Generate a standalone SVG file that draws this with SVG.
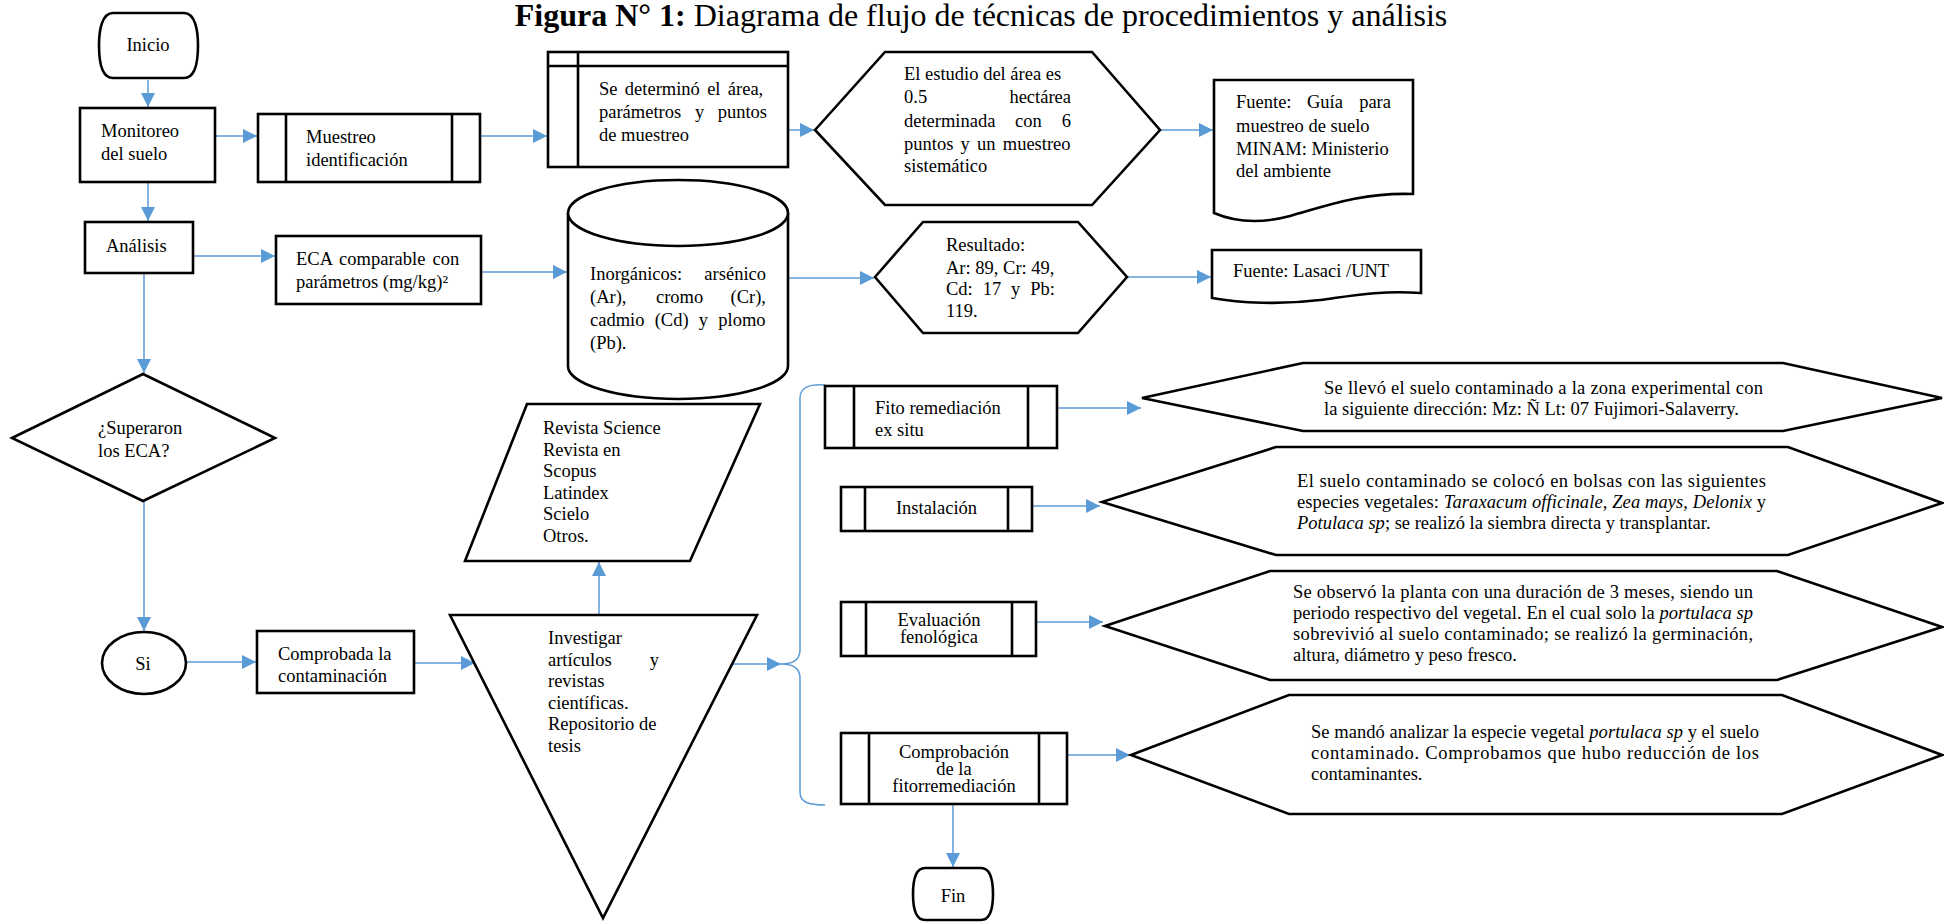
<svg xmlns="http://www.w3.org/2000/svg" width="1944" height="923" viewBox="0 0 1944 923">
<style>
.s{fill:#fff;stroke:#000;stroke-width:2.6;stroke-linejoin:miter}
.l{fill:none;stroke:#000;stroke-width:2.6}
.t{font-family:"Liberation Serif","Times New Roman",serif;font-size:18.5px;fill:#000}
.m{text-anchor:middle}
.e{text-anchor:end}
.c{fill:none;stroke:#5B9BD5;stroke-width:1.5}
.a{marker-end:url(#ah)}
</style>
<defs>
<marker id="ah" markerUnits="userSpaceOnUse" markerWidth="14" markerHeight="14" refX="14" refY="7" orient="auto">
<path d="M0,0 L14,7 L0,14 Z" fill="#5B9BD5"/>
</marker>
</defs>
<rect width="1944" height="923" fill="#fff"/>
<text x="981" y="26" style="font-family:'Liberation Serif','Times New Roman',serif;font-size:32px;text-anchor:middle"><tspan font-weight="bold">Figura N° 1:</tspan> Diagrama de flujo de técnicas de procedimientos y análisis</text>

<g id="connectors">
<path class="c a" d="M148,80 V107"/>
<path class="c a" d="M198,136 H257"/>
<path class="c a" d="M480,136 H547"/>
<path class="c a" d="M788,130 H814"/>
<path class="c a" d="M1160,130 H1213"/>
<path class="c a" d="M148,182 V221"/>
<path class="c a" d="M193,256 H275"/>
<path class="c a" d="M481,272 H567"/>
<path class="c a" d="M775,278 H874"/>
<path class="c a" d="M1127,277 H1211"/>
<path class="c a" d="M144,273 V373"/>
<path class="c a" d="M144,501 V631"/>
<path class="c a" d="M186,662 H256"/>
<path class="c a" d="M414,663 H475"/>
<path class="c a" d="M599,615 V562"/>
<path class="c a" d="M733,664 H781"/>
<path class="c" d="M825,385 C808,384 800,388 800,398 V650 C800,660 792,664 781,664 C792,664 800,668 800,678 V792 C800,802 808,805 825,805"/>
<path class="c a" d="M1057,408 H1141"/>
<path class="c a" d="M1032,506 H1100"/>
<path class="c a" d="M1036,622 H1103"/>
<path class="c a" d="M1066,755 H1130"/>
<path class="c a" d="M953,804 V867"/>
</g>

<g id="inicio">
<path class="s" d="M113,13 H184 C195,13 198,30 198,45.5 C198,62 195,78 184,78 H113 C102,78 99,62 99,45.5 C99,30 102,13 113,13 Z"/>
<text class="t m" x="148" y="51">Inicio</text>
</g>

<g id="monitoreo">
<rect class="s" x="80" y="108" width="135" height="74"/>
<text class="t" x="101" y="137">Monitoreo</text>
<text class="t" x="101" y="160">del suelo</text>
</g>

<g id="muestreo">
<rect class="s" x="258" y="114" width="222" height="68"/>
<path class="l" d="M286,114 V182 M452,114 V182"/>
<text class="t" x="306" y="143">Muestreo</text>
<text class="t" x="306" y="166">identificación</text>
</g>

<g id="determino">
<rect class="s" x="548" y="52" width="240" height="115"/>
<path class="l" d="M548,66 H788 M578,52 V167"/>
<text class="t" x="599" y="95" word-spacing="2.7">Se determinó el área,</text>
<text class="t" x="599" y="118">parámetros</text>
<text class="t" x="695" y="118">y</text>
<text class="t e" x="767" y="118">puntos</text>
<text class="t" x="599" y="141">de muestreo</text>
</g>

<g id="estudio">
<polygon class="s" points="815,130 885,52 1092,52 1160,130 1092,205 885,205"/>
<text class="t" x="904" y="80">El estudio del área es</text>
<text class="t" x="904" y="103">0.5</text>
<text class="t e" x="1071" y="103">hectárea</text>
<text class="t" x="904" y="127">determinada</text>
<text class="t" x="1015" y="127">con</text>
<text class="t e" x="1071" y="127">6</text>
<text class="t" x="904" y="150" word-spacing="2.6">puntos y un muestreo</text>
<text class="t" x="904" y="172">sistemático</text>
</g>

<g id="fuente-guia">
<path class="s" d="M1214,80 H1413 V194 C1360,192 1320,208 1290,216 C1260,224 1235,222 1214,213 Z"/>
<text class="t" x="1236" y="108">Fuente:</text>
<text class="t" x="1307" y="108">Guía</text>
<text class="t e" x="1391" y="108">para</text>
<text class="t" x="1236" y="132">muestreo de suelo</text>
<text class="t" x="1236" y="155">MINAM: Ministerio</text>
<text class="t" x="1236" y="177">del ambiente</text>
</g>

<g id="analisis">
<rect class="s" x="85" y="222" width="108" height="51"/>
<text class="t" x="106" y="252">Análisis</text>
</g>

<g id="eca">
<rect class="s" x="276" y="236" width="205" height="68"/>
<text class="t" x="296" y="265" word-spacing="2.5">ECA comparable con</text>
<text class="t" x="296" y="288">parámetros (mg/kg)²</text>
</g>

<g id="inorganicos">
<path class="s" d="M568,213 V366 A110,33 0 0 0 788,366 V213"/>
<ellipse class="s" cx="678" cy="213" rx="110" ry="33"/>
<text class="t" x="590" y="280">Inorgánicos:</text>
<text class="t e" x="766" y="280">arsénico</text>
<text class="t" x="590" y="303">(Ar),</text>
<text class="t" x="656" y="303">cromo</text>
<text class="t e" x="766" y="303">(Cr),</text>
<text class="t" x="590" y="326" word-spacing="5.6">cadmio (Cd) y plomo</text>
<text class="t" x="590" y="349">(Pb).</text>
</g>

<g id="resultado">
<polygon class="s" points="875,277 923,222 1078,222 1127,277 1078,333 923,333"/>
<text class="t" x="946" y="251">Resultado:</text>
<text class="t" x="946" y="274">Ar: 89, Cr: 49,</text>
<text class="t" x="946" y="295" word-spacing="5.3">Cd: 17 y Pb:</text>
<text class="t" x="946" y="317">119.</text>
</g>

<g id="fuente-lasaci">
<path class="s" d="M1212,250 H1421 V293 C1380,290 1350,296 1320,300 C1280,305 1240,303 1212,298 Z"/>
<text class="t" x="1233" y="277">Fuente: Lasaci /UNT</text>
</g>

<g id="superaron">
<polygon class="s" points="12,438 143,374 275,438 143,501"/>
<text class="t" x="98" y="434">¿Superaron</text>
<text class="t" x="98" y="457">los ECA?</text>
</g>

<g id="si">
<ellipse class="s" cx="144" cy="663" rx="42" ry="31"/>
<text class="t m" x="143" y="670">Si</text>
</g>

<g id="comprobada">
<rect class="s" x="257" y="631" width="157" height="62"/>
<text class="t" x="278" y="660">Comprobada la</text>
<text class="t" x="278" y="682">contaminación</text>
</g>

<g id="revistas">
<polygon class="s" points="527,404 760,404 690,561 465,561"/>
<text class="t" x="543" y="434">Revista Science</text>
<text class="t" x="543" y="455.5">Revista en</text>
<text class="t" x="543" y="477">Scopus</text>
<text class="t" x="543" y="498.5">Latindex</text>
<text class="t" x="543" y="520">Scielo</text>
<text class="t" x="543" y="541.5">Otros.</text>
</g>

<g id="investigar">
<polygon class="s" points="450,615 757,615 603,918"/>
<text class="t" x="548" y="644">Investigar</text>
<text class="t" x="548" y="665.5">artículos</text>
<text class="t e" x="659" y="665.5">y</text>
<text class="t" x="548" y="687">revistas</text>
<text class="t" x="548" y="708.5">científicas.</text>
<text class="t" x="548" y="730">Repositorio de</text>
<text class="t" x="548" y="751.5">tesis</text>
</g>

<g id="fito">
<rect class="s" x="825" y="386" width="232" height="62"/>
<path class="l" d="M854,386 V448 M1028,386 V448"/>
<text class="t" x="875" y="414">Fito remediación</text>
<text class="t" x="875" y="436">ex situ</text>
</g>

<g id="instalacion">
<rect class="s" x="841" y="487" width="191" height="44"/>
<path class="l" d="M865,487 V531 M1008,487 V531"/>
<text class="t m" x="936.5" y="514">Instalación</text>
</g>

<g id="evaluacion">
<rect class="s" x="841" y="602" width="195" height="54"/>
<path class="l" d="M866,602 V656 M1012,602 V656"/>
<text class="t m" x="939" y="626">Evaluación</text>
<text class="t m" x="939" y="643">fenológica</text>
</g>

<g id="comprobacion">
<rect class="s" x="841" y="733" width="226" height="71"/>
<path class="l" d="M869,733 V804 M1039,733 V804"/>
<text class="t m" x="954" y="758">Comprobación</text>
<text class="t m" x="954" y="775">de la</text>
<text class="t m" x="954" y="792">fitorremediación</text>
</g>

<g id="fin">
<path class="s" d="M925,868 H981 C991,868 993,882 993,894 C993,908 991,920 981,920 H925 C915,920 913,908 913,894 C913,882 915,868 925,868 Z"/>
<text class="t m" x="953" y="902">Fin</text>
</g>

<g id="hex-fito">
<polygon class="s" points="1142,398 1303,363 1783,363 1942,398 1783,431 1303,431"/>
<text class="t" x="1324" y="394" textLength="439" lengthAdjust="spacing">Se llevó el suelo contaminado a la zona experimental con</text>
<text class="t" x="1324" y="415">la siguiente dirección: Mz: Ñ Lt: 07 Fujimori-Salaverry.</text>
</g>

<g id="hex-instalacion">
<polygon class="s" points="1102,502 1276,447 1788,447 1942,503 1788,555 1276,555"/>
<text class="t" x="1297" y="487" textLength="469" lengthAdjust="spacing">El suelo contaminado se colocó en bolsas con las siguientes</text>
<text class="t" x="1297" y="508" textLength="469" lengthAdjust="spacing">especies vegetales: <tspan font-style="italic">Taraxacum officinale, Zea mays, Delonix</tspan> y</text>
<text class="t" x="1297" y="529"><tspan font-style="italic">Potulaca sp</tspan>; se realizó la siembra directa y transplantar.</text>
</g>

<g id="hex-evaluacion">
<polygon class="s" points="1105,626 1270,571 1777,571 1942,627 1777,680 1270,680"/>
<text class="t" x="1293" y="598" textLength="460" lengthAdjust="spacing">Se observó la planta con una duración de 3 meses, siendo un</text>
<text class="t" x="1293" y="619" textLength="460" lengthAdjust="spacing">periodo respectivo del vegetal. En el cual solo la <tspan font-style="italic">portulaca sp</tspan></text>
<text class="t" x="1293" y="640" textLength="460" lengthAdjust="spacing">sobrevivió al suelo contaminado; se realizó la germinación,</text>
<text class="t" x="1293" y="661">altura, diámetro y peso fresco.</text>
</g>

<g id="hex-comprobacion">
<polygon class="s" points="1131,755 1289,695 1782,695 1942,755 1782,814 1289,814"/>
<text class="t" x="1311" y="738" textLength="448" lengthAdjust="spacing">Se mandó analizar la especie vegetal <tspan font-style="italic">portulaca sp</tspan> y el suelo</text>
<text class="t" x="1311" y="759" textLength="448" lengthAdjust="spacing">contaminado. Comprobamos que hubo reducción de los</text>
<text class="t" x="1311" y="780">contaminantes.</text>
</g>
</svg>
